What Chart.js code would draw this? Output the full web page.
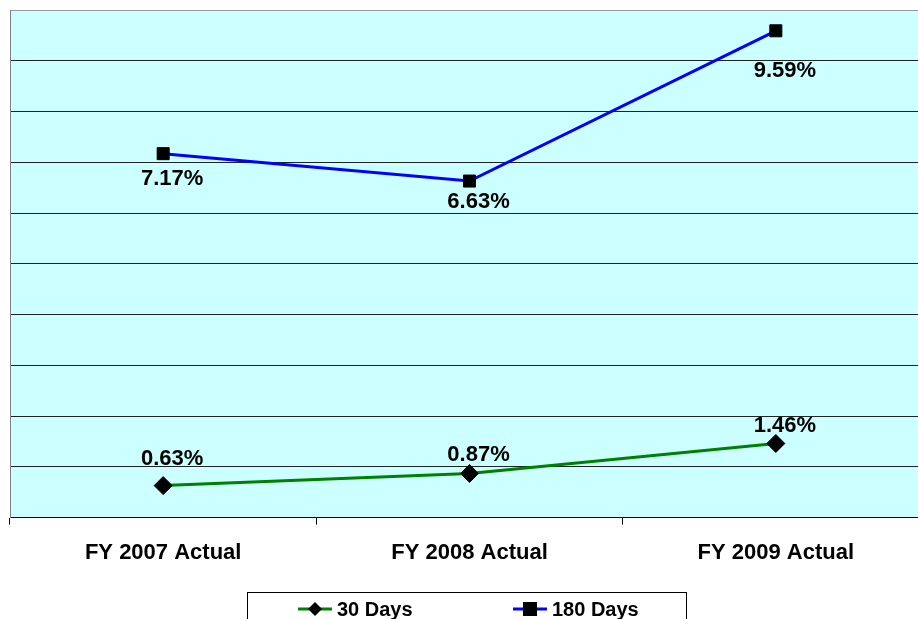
<!DOCTYPE html>
<html>
<head>
<meta charset="utf-8">
<script src="https://cdn.jsdelivr.net/npm/chart.js@4"></script>
<style>
  html, body { margin: 0; padding: 0; background: #fff; overflow: hidden; }
  #wrap { width: 940px; height: 619px; position: relative; }
</style>
</head>
<body>
<div id="wrap"><canvas id="myChart"></canvas></div>
<script>
const categories = ["FY 2007 Actual", "FY 2008 Actual", "FY 2009 Actual"];
const days30 = [0.63, 0.87, 1.46];
const days180 = [7.17, 6.63, 9.59];
const seriesNames = ["30 Days", "180 Days"];

const FONT = '"Liberation Sans", Arial, sans-serif';

// vertical offset of each value label from its marker (px)
const labelShift = [
  [-27, -19, -18],
  [25, 21, 40],
];

// light cyan plot background
const plotBg = {
  id: "plotBg",
  beforeDraw(chart) {
    const { ctx, chartArea: a } = chart;
    ctx.save();
    ctx.fillStyle = "#ccffff";
    ctx.fillRect(a.left, a.top, a.right - a.left, a.bottom - a.top);
    ctx.restore();
  },
};

// value labels next to the markers
const valueLabels = {
  id: "valueLabels",
  afterDatasetsDraw(chart) {
    const ctx = chart.ctx;
    ctx.save();
    ctx.font = "bold 22px " + FONT;
    ctx.fillStyle = "#000";
    ctx.textAlign = "center";
    ctx.textBaseline = "middle";
    chart.data.datasets.forEach((ds, i) => {
      chart.getDatasetMeta(i).data.forEach((pt, j) => {
        ctx.fillText(ds.data[j].toFixed(2) + "%", pt.x + 9, pt.y + labelShift[i][j]);
      });
    });
    ctx.restore();
  },
};

// boxed legend with line + marker swatches
const boxLegend = {
  id: "boxLegend",
  afterDraw(chart) {
    const ctx = chart.ctx;
    ctx.save();
    ctx.strokeStyle = "#000";
    ctx.lineWidth = 1;
    ctx.strokeRect(247.5, 592.5, 439, 40);
    const xs = [298, 513];
    const y = 609;
    ctx.font = "bold 20px " + FONT;
    ctx.textBaseline = "middle";
    chart.data.datasets.forEach((ds, i) => {
      const x = xs[i];
      ctx.strokeStyle = ds.borderColor;
      ctx.lineWidth = 3;
      ctx.beginPath();
      ctx.moveTo(x, y);
      ctx.lineTo(x + 34, y);
      ctx.stroke();
      ctx.fillStyle = "#000";
      if (ds.pointStyle === "rectRot") {
        ctx.beginPath();
        ctx.moveTo(x + 17, y - 7);
        ctx.lineTo(x + 24, y);
        ctx.lineTo(x + 17, y + 7);
        ctx.lineTo(x + 10, y);
        ctx.closePath();
        ctx.fill();
      } else {
        ctx.fillRect(x + 10, y - 7, 14, 14);
      }
      ctx.fillText(ds.label, x + 39, y + 1);
    });
    ctx.restore();
  },
};

new Chart(document.getElementById("myChart"), {
  type: "line",
  data: {
    labels: categories,
    datasets: [
      {
        label: seriesNames[0],
        data: days30,
        borderColor: "#008000",
        borderWidth: 3,
        pointStyle: "rectRot",
        pointRadius: 9,
        pointBackgroundColor: "#000",
        pointBorderColor: "#000",
        pointBorderWidth: 1,
        tension: 0,
      },
      {
        label: seriesNames[1],
        data: days180,
        borderColor: "#0000ff",
        borderWidth: 3,
        pointStyle: "rect",
        pointRadius: 8.5,
        pointBackgroundColor: "#000",
        pointBorderColor: "#000",
        pointBorderWidth: 1,
        tension: 0,
      },
    ],
  },
  options: {
    responsive: true,
    maintainAspectRatio: false,
    animation: false,
    layout: { padding: { left: 8, top: 10, right: 11, bottom: 38 } },
    scales: {
      x: {
        offset: true,
        grid: {
          offset: true,
          drawOnChartArea: false,
          drawTicks: true,
          tickLength: 7,
          color: "#000",
        },
        border: { color: "#000", width: 1 },
        ticks: {
          color: "#000",
          padding: 15,
          font: { family: FONT, size: 22, weight: "bold" },
          maxRotation: 0,
        },
      },
      y: {
        min: 0,
        max: 10,
        ticks: { display: false, stepSize: 1 },
        grid: {
          drawTicks: false,
          color: (c) => (c.tick && c.tick.value === 10 ? "#999" : "#222"),
        },
        border: { color: "#808080", width: 1 },
      },
    },
    plugins: {
      legend: { display: false },
      tooltip: { enabled: false },
      title: { display: false },
    },
  },
  plugins: [plotBg, valueLabels, boxLegend],
});
</script>
</body>
</html>
